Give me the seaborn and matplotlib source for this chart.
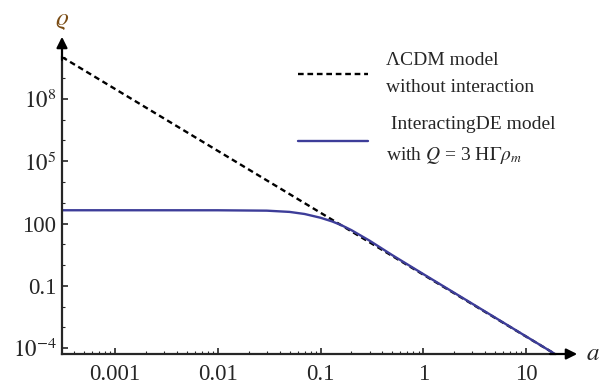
import matplotlib
matplotlib.use("Agg")
import matplotlib.pyplot as plt
import matplotlib.ticker as mticker
import pandas as pd
import seaborn as sns

# values (log-log)
lcdm_a = [3.04e-4, 19.2]
lcdm_rho = [1.05e10, 5.2e-5]

ide_a = [3.04e-4, 0.001, 0.01, 0.03, 0.05, 0.07, 0.1, 0.13, 0.16, 0.2, 0.3, 0.5, 1.0, 3.0, 10.0, 19.2]
ide_rho = [436, 436, 435, 417, 363, 288, 190, 126, 83, 48, 15, 3.0, 0.37, 0.0138, 3.7e-4, 5.2e-5]

x_ticks = [0.001, 0.01, 0.1, 1, 10]
x_labels = ["0.001", "0.01", "0.1", "1", "10"]
y_ticks = [1e-4, 0.1, 100, 1e5, 1e8]
y_labels = ["$10^{-4}$", "0.1", "100", "$10^{5}$", "$10^{8}$"]

lcdm_label = "\u039bCDM model\nwithout interaction"
ide_label = " InteractingDE model\nwith $Q$ = 3 H$\\Gamma\\rho_m$"

sns.set_style("ticks")
plt.rcParams["font.family"] = ["Liberation Serif", "DejaVu Serif"]
plt.rcParams["mathtext.fontset"] = "stix"

df = pd.concat([
    pd.DataFrame({"a": lcdm_a, "rho": lcdm_rho, "model": lcdm_label}),
    pd.DataFrame({"a": ide_a, "rho": ide_rho, "model": ide_label}),
])

fig = plt.figure(figsize=(6.07, 3.90), dpi=100)
ax = fig.add_axes([62 / 607, 36 / 390, 493 / 607, 297 / 390])

sns.lineplot(data=df, x="a", y="rho", hue="model", style="model",
             palette={lcdm_label: "black", ide_label: "#3d3d99"},
             dashes={lcdm_label: (2.4, 1.6), ide_label: ""},
             sort=False, estimator=None, linewidth=1.7, ax=ax)
ax.set_xscale("log")
ax.set_yscale("log")
ax.set_xlim(lcdm_a[0], lcdm_a[1])
ax.set_ylim(lcdm_rho[1], lcdm_rho[0])

ax.xaxis.set_major_locator(mticker.FixedLocator(x_ticks))
ax.xaxis.set_major_formatter(mticker.FixedFormatter(x_labels))
ax.xaxis.set_minor_locator(mticker.LogLocator(base=10, subs=range(2, 10), numticks=20))
ax.xaxis.set_minor_formatter(mticker.NullFormatter())
ax.yaxis.set_major_locator(mticker.FixedLocator(y_ticks))
ax.yaxis.set_major_formatter(mticker.FixedFormatter(y_labels))
ax.yaxis.set_minor_locator(mticker.LogLocator(base=10, subs=(1.0,), numticks=30))
ax.yaxis.set_minor_formatter(mticker.NullFormatter())

ax.tick_params(which="major", direction="in", length=4, width=1.2, labelsize=16.5, pad=4)
ax.tick_params(which="minor", direction="in", length=2, width=0.8)
ax.tick_params(axis="x", which="major", pad=7)

sns.despine(ax=ax)
for s in ("left", "bottom"):
    ax.spines[s].set_linewidth(1.6)

# axis arrows
arrow = dict(arrowstyle="-|>", lw=1.6, color="black", mutation_scale=16, shrinkA=0, shrinkB=0)
ax.annotate("", xy=(1.045, 0), xytext=(0.99, 0), xycoords="axes fraction",
            arrowprops=arrow, annotation_clip=False)
ax.annotate("", xy=(0, 1.068), xytext=(0, 0.99), xycoords="axes fraction",
            arrowprops=arrow, annotation_clip=False)
ax.text(1.077, 0.0, "$a$", transform=ax.transAxes, fontsize=18, ha="center", va="center")
ax.text(0.0, 1.12, "$\\varrho$", transform=ax.transAxes, fontsize=18, ha="center", va="center",
        color="#7a4c14")

ax.set_xlabel("")
ax.set_ylabel("")
leg = ax.legend(title=None, frameon=False, fontsize=14, handlelength=3.6, handletextpad=0.9,
                labelspacing=1.0, loc="upper left", borderpad=0, borderaxespad=0,
                bbox_to_anchor=(298 / 607, 1 - 52 / 390), bbox_transform=fig.transFigure)
for t in leg.get_texts():
    t.set_linespacing(1.8)

fig.savefig("out.png", dpi=100)
plt.close(fig)
